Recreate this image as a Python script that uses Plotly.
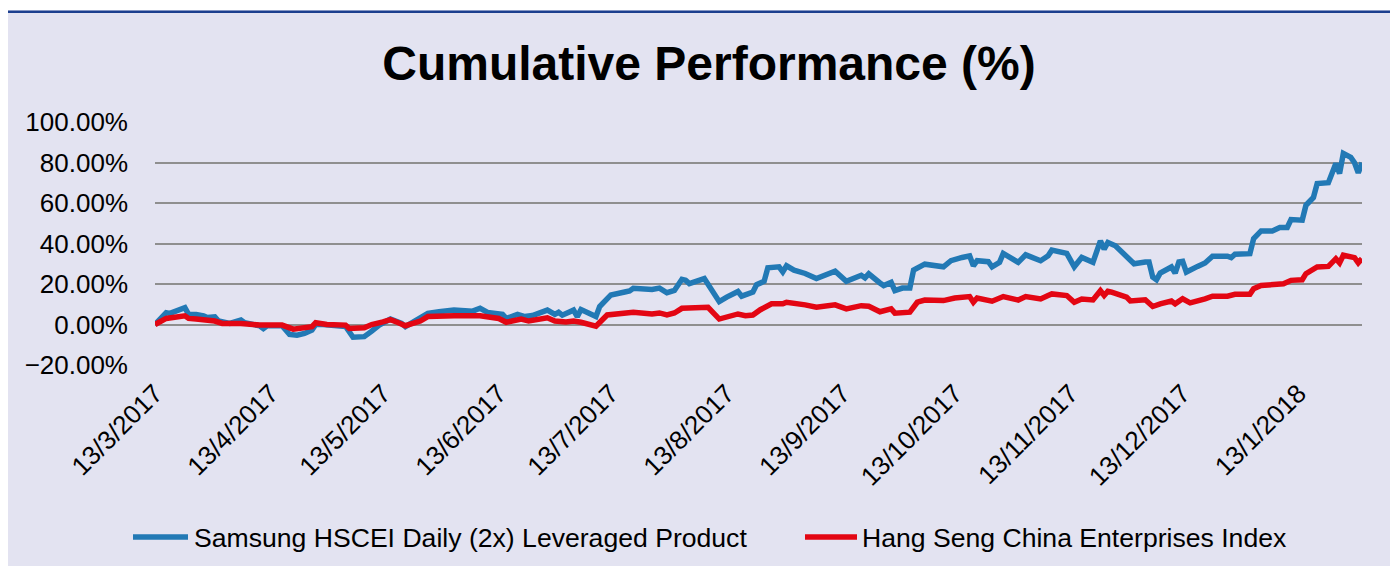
import plotly.graph_objects as go

TITLE = "Cumulative Performance (%)"
SERIES_A = "Samsung HSCEI Daily (2x) Leveraged Product"
SERIES_B = "Hang Seng China Enterprises Index"

tick_dates = ["2017-03-13", "2017-04-13", "2017-05-13", "2017-06-13", "2017-07-13",
              "2017-08-13", "2017-09-13", "2017-10-13", "2017-11-13", "2017-12-13",
              "2018-01-13"]
tick_labels = ["13/3/2017", "13/4/2017", "13/5/2017", "13/6/2017", "13/7/2017",
               "13/8/2017", "13/9/2017", "13/10/2017", "13/11/2017", "13/12/2017",
               "13/1/2018"]
y_ticks = [-0.2, 0.0, 0.2, 0.4, 0.6, 0.8, 1.0]

samsung_dates = [
    "2017-03-13", "2017-03-16", "2017-03-17", "2017-03-20", "2017-03-21", "2017-03-22",
    "2017-03-24", "2017-03-26", "2017-03-27", "2017-03-29", "2017-03-30", "2017-04-02",
    "2017-04-05", "2017-04-06", "2017-04-10", "2017-04-11", "2017-04-12", "2017-04-16",
    "2017-04-18", "2017-04-20", "2017-04-22", "2017-04-24", "2017-04-25", "2017-04-27",
    "2017-05-01", "2017-05-03", "2017-05-05", "2017-05-08", "2017-05-10", "2017-05-12",
    "2017-05-15", "2017-05-18", "2017-05-19", "2017-05-20", "2017-05-23", "2017-05-25",
    "2017-05-28", "2017-06-01", "2017-06-06", "2017-06-08", "2017-06-10", "2017-06-13",
    "2017-06-14", "2017-06-15", "2017-06-18", "2017-06-20", "2017-06-22", "2017-06-26",
    "2017-06-28", "2017-06-29", "2017-06-30", "2017-07-03", "2017-07-04", "2017-07-05",
    "2017-07-08", "2017-07-09", "2017-07-10", "2017-07-13", "2017-07-17", "2017-07-18",
    "2017-07-19", "2017-07-20", "2017-07-24", "2017-07-26", "2017-07-28", "2017-07-30",
    "2017-08-01", "2017-08-02", "2017-08-03", "2017-08-07", "2017-08-11", "2017-08-13",
    "2017-08-16", "2017-08-17", "2017-08-20", "2017-08-21", "2017-08-23", "2017-08-24",
    "2017-08-27", "2017-08-28", "2017-08-29", "2017-08-31", "2017-09-03", "2017-09-06",
    "2017-09-08", "2017-09-11", "2017-09-14", "2017-09-18", "2017-09-19", "2017-09-20",
    "2017-09-23", "2017-09-24", "2017-09-26", "2017-09-27", "2017-09-29", "2017-10-01",
    "2017-10-02", "2017-10-05", "2017-10-10", "2017-10-12", "2017-10-15", "2017-10-17",
    "2017-10-18", "2017-10-19", "2017-10-22", "2017-10-23", "2017-10-25", "2017-10-26",
    "2017-10-30", "2017-11-01", "2017-11-05", "2017-11-07", "2017-11-08", "2017-11-12",
    "2017-11-14", "2017-11-16", "2017-11-19", "2017-11-21", "2017-11-22", "2017-11-23",
    "2017-11-25", "2017-11-27", "2017-11-28", "2017-11-30", "2017-12-03", "2017-12-04",
    "2017-12-05", "2017-12-06", "2017-12-07", "2017-12-10", "2017-12-11", "2017-12-12",
    "2017-12-13", "2017-12-14", "2017-12-17", "2017-12-19", "2017-12-21", "2017-12-25",
    "2017-12-26", "2017-12-27", "2017-12-31", "2018-01-01", "2018-01-03", "2018-01-06",
    "2018-01-08", "2018-01-10", "2018-01-11", "2018-01-14", "2018-01-15", "2018-01-17",
    "2018-01-18", "2018-01-21", "2018-01-23", "2018-01-24", "2018-01-25", "2018-01-27",
    "2018-01-28", "2018-01-29", "2018-01-30",
]
samsung_pct = [
    0.0, 5.8, 5.5, 8.0, 8.3, 5.0,
    5.0, 4.3, 3.5, 3.8, 1.7, 0.5,
    2.2, 0.9, -0.6, -2.0, -0.6, -0.6,
    -4.9, -5.3, -4.4, -2.8, 0.0, 0.0,
    -0.3, -1.0, -6.3, -6.0, -3.3, -0.3,
    2.7, 0.5, -1.1, 0.0, 3.0, 5.5,
    6.3, 7.1, 6.6, 8.0, 6.0, 5.0,
    5.0, 3.0, 5.0, 3.9, 4.4, 7.1,
    5.0, 6.0, 4.6, 7.1, 3.9, 7.4,
    4.6, 3.9, 8.9, 14.6, 16.2, 16.6,
    17.9, 17.7, 17.3, 18.0, 15.7, 16.8,
    22.3, 21.8, 20.2, 22.7, 11.3, 13.5,
    16.3, 14.0, 16.0, 19.7, 21.3, 28.0,
    28.5, 26.0, 29.0, 26.8, 25.2, 22.7,
    24.3, 26.3, 21.3, 24.3, 23.0, 25.0,
    20.5, 19.2, 20.8, 16.7, 18.0, 18.0,
    26.9, 29.8, 28.5, 31.5, 33.1, 33.9,
    29.0, 31.5, 31.0, 28.5, 30.7, 35.1,
    30.7, 34.4, 31.5, 33.9, 36.7, 35.1,
    28.5, 33.1, 30.7, 41.3, 37.2, 40.5,
    38.9, 35.6, 34.2, 30.0, 30.9, 30.9,
    23.4, 22.1, 25.4, 28.4, 25.4, 30.9,
    31.2, 25.9, 28.7, 30.4, 33.7, 33.7,
    33.0, 34.7, 35.0, 42.4, 46.2, 46.2,
    47.9, 47.9, 51.8, 51.5, 58.9, 62.7,
    69.6, 70.0, 79.5, 74.6, 84.5, 82.5,
    79.9, 74.9, 79.9,
]

hscei_dates = [
    "2017-03-13", "2017-03-16", "2017-03-21", "2017-03-22", "2017-03-24", "2017-03-29",
    "2017-03-31", "2017-04-05", "2017-04-10", "2017-04-16", "2017-04-19", "2017-04-24",
    "2017-04-25", "2017-04-28", "2017-05-03", "2017-05-04", "2017-05-08", "2017-05-10",
    "2017-05-13", "2017-05-15", "2017-05-17", "2017-05-19", "2017-05-23", "2017-05-25",
    "2017-06-01", "2017-06-08", "2017-06-13", "2017-06-15", "2017-06-19", "2017-06-21",
    "2017-06-26", "2017-06-28", "2017-07-01", "2017-07-03", "2017-07-05", "2017-07-08",
    "2017-07-09", "2017-07-12", "2017-07-17", "2017-07-19", "2017-07-24", "2017-07-26",
    "2017-07-28", "2017-07-30", "2017-08-01", "2017-08-08", "2017-08-11", "2017-08-16",
    "2017-08-18", "2017-08-20", "2017-08-22", "2017-08-25", "2017-08-28", "2017-08-29",
    "2017-09-03", "2017-09-06", "2017-09-11", "2017-09-14", "2017-09-18", "2017-09-20",
    "2017-09-23", "2017-09-26", "2017-09-27", "2017-10-01", "2017-10-03", "2017-10-05",
    "2017-10-10", "2017-10-13", "2017-10-17", "2017-10-18", "2017-10-19", "2017-10-23",
    "2017-10-26", "2017-10-30", "2017-11-01", "2017-11-05", "2017-11-07", "2017-11-08",
    "2017-11-12", "2017-11-14", "2017-11-16", "2017-11-19", "2017-11-21", "2017-11-22",
    "2017-11-23", "2017-11-24", "2017-11-28", "2017-11-29", "2017-12-03", "2017-12-05",
    "2017-12-07", "2017-12-10", "2017-12-11", "2017-12-13", "2017-12-15", "2017-12-17",
    "2017-12-19", "2017-12-21", "2017-12-25", "2017-12-27", "2017-12-31", "2018-01-01",
    "2018-01-03", "2018-01-09", "2018-01-11", "2018-01-14", "2018-01-15", "2018-01-18",
    "2018-01-21", "2018-01-23", "2018-01-24", "2018-01-25", "2018-01-27", "2018-01-28",
    "2018-01-29", "2018-01-30",
]
hscei_pct = [
    0.0, 3.0, 4.3, 3.0, 2.7, 1.7,
    0.5, 0.5, -0.3, -0.3, -2.3, -1.1,
    0.9, 0.0, -0.3, -2.0, -1.6, 0.0,
    1.3, 2.4, 1.0, -0.6, 1.7, 3.9,
    4.3, 4.3, 3.0, 1.1, 2.7, 1.7,
    3.3, 1.7, 1.3, 1.7, 1.1, -0.6,
    -0.8, 4.7, 5.5, 6.0, 5.2, 5.7,
    4.7, 5.7, 8.0, 8.5, 2.7, 5.2,
    4.3, 4.7, 7.3, 10.2, 10.2, 11.0,
    9.7, 8.5, 9.7, 7.7, 9.3, 9.0,
    6.3, 7.7, 5.6, 6.1, 11.0, 12.1,
    11.8, 13.1, 13.8, 11.0, 13.1, 11.5,
    13.8, 12.1, 13.8, 12.6, 14.3, 15.1,
    14.3, 11.0, 12.6, 12.1, 16.7, 14.3,
    16.4, 16.0, 13.5, 11.6, 12.2, 8.9,
    10.2, 11.6, 10.2, 12.7, 10.7, 11.4,
    12.7, 14.0, 14.0, 14.9, 14.9, 17.7,
    19.3, 20.1, 21.8, 22.1, 25.1, 28.4,
    28.7, 32.5, 30.4, 34.2, 33.7, 33.0,
    30.4, 32.5,
]

BG = "#E3E3F1"
BLUE = "#2279B5"
RED = "#E30613"
GRID = "#8F8F8F"
FONT = "Liberation Sans, Arial, sans-serif"

fig = go.Figure()
fig.add_trace(go.Scatter(x=samsung_dates, y=[v / 100 for v in samsung_pct], mode="lines",
                         name=SERIES_A, showlegend=False,
                         line=dict(color=BLUE, width=5.5)))
fig.add_trace(go.Scatter(x=hscei_dates, y=[v / 100 for v in hscei_pct], mode="lines",
                         name=SERIES_B, showlegend=False,
                         line=dict(color=RED, width=5.5)))

# the page body adds an 8px white margin on top/left
OFF = 8
W, H = 1398 - OFF, 566 - OFF
L, R, T, B = 155 - OFF, 36, 122 - OFF, 201
pw, ph = W - L - R, H - T - B


def px_x(p):
    return (p - OFF - L) / pw


def px_y(p):
    return (H - B - (p - OFF)) / ph


shapes = [
    dict(type="rect", xref="paper", yref="paper", x0=-1, x1=2, y0=px_y(10.5), y1=px_y(-50),
         fillcolor="white", line_width=0, layer="below"),
    dict(type="rect", xref="paper", yref="paper", x0=-1, x1=2, y0=px_y(13), y1=px_y(10.5),
         fillcolor="#1C3F8F", line_width=0, layer="below"),
]

# legend drawn as key lines + labels (legend keys, not data)
legend_items = [(SERIES_A, BLUE, 133, 188, 192), (SERIES_B, RED, 805, 857, 860)]
annotations = []
for name, col, lx0, lx1, tx in legend_items:
    shapes.append(dict(type="line", xref="paper", yref="paper", x0=px_x(lx0), x1=px_x(lx1),
                       y0=px_y(537), y1=px_y(537), line=dict(color=col, width=5.5)))
    annotations.append(dict(text=name, xref="paper", yref="paper", x=px_x(tx), y=px_y(537.5),
                            xanchor="left", yanchor="middle", showarrow=False,
                            font=dict(family=FONT, size=26.6, color="black")))

fig.update_layout(
    width=W, height=H,
    margin=dict(l=L, r=R, t=T, b=B, autoexpand=False),
    paper_bgcolor=BG, plot_bgcolor=BG,
    font=dict(family=FONT, size=26, color="black"),
    title=dict(text="<b>" + TITLE + "</b>", x=(709 - OFF) / W, xanchor="center",
               xref="container", y=1 - (63 - OFF) / H, yanchor="middle", yref="container",
               font=dict(family=FONT, size=48, color="black")),
    showlegend=False,
    shapes=shapes,
    annotations=annotations,
    xaxis=dict(type="date", range=["2017-03-13", "2018-01-30"], tickvals=tick_dates,
               ticktext=tick_labels, tickangle=-45, showgrid=False, zeroline=False,
               showline=False, ticks="", ticklabelstandoff=7,
               tickfont=dict(family=FONT, size=26, color="black")),
    yaxis=dict(range=[-0.2, 1.0], tickvals=y_ticks, tickformat=".2%", showgrid=True,
               gridcolor=GRID, gridwidth=2, zeroline=False, showline=False, ticks="",
               ticklabelstandoff=26, tickfont=dict(family=FONT, size=26, color="black")),
)

fig.write_html("out.html")
